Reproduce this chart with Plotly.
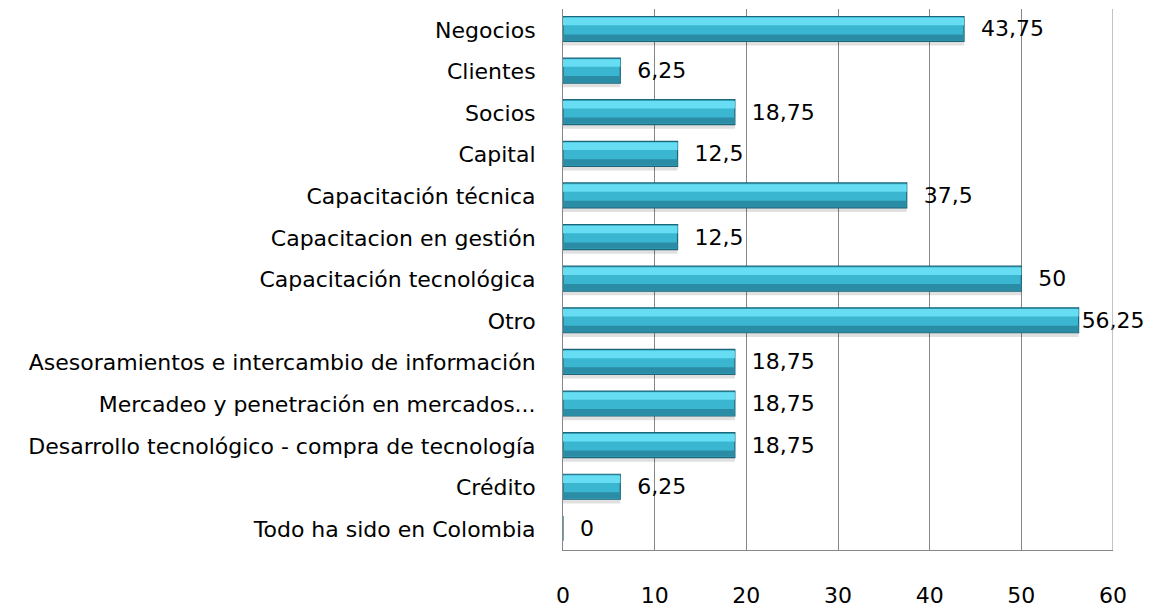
import plotly.graph_objects as go

categories = [
    "Negocios",
    "Clientes",
    "Socios",
    "Capital",
    "Capacitación técnica",
    "Capacitacion en gestión",
    "Capacitación tecnológica",
    "Otro",
    "Asesoramientos e intercambio de información",
    "Mercadeo y penetración en mercados...",
    "Desarrollo tecnológico - compra de tecnología",
    "Crédito",
    "Todo ha sido en Colombia",
]
values = [43.75, 6.25, 18.75, 12.5, 37.5, 12.5, 50, 56.25, 18.75, 18.75, 18.75, 6.25, 0]
value_labels = ["43,75", "6,25", "18,75", "12,5", "37,5", "12,5", "50", "56,25",
                "18,75", "18,75", "18,75", "6,25", "0"]
x_ticks = [0, 10, 20, 30, 40, 50, 60]

FONT = "DejaVu Sans"
FS = 22
vmax = max(values)
bar_text = [("" if v == vmax else "  ") + t for v, t in zip(values, value_labels)]

fig = go.Figure()

# soft shadow
fig.add_trace(go.Bar(
    y=categories, x=values, orientation="h",
    width=0.64, offset=-0.26,
    marker=dict(color="rgba(0,0,0,0.12)", line=dict(width=0)),
    hoverinfo="skip", showlegend=False,
))
# main bar body
fig.add_trace(go.Bar(
    y=categories, x=values, orientation="h",
    width=0.6, offset=-0.32,
    marker=dict(color="#3AB6D0", line=dict(color="#1D6577", width=1.2)),
    text=bar_text, textposition="outside",
    textfont=dict(family=FONT, size=FS, color="#000000"),
    cliponaxis=False, showlegend=False,
))
# light top highlight
fig.add_trace(go.Bar(
    y=categories, x=values, orientation="h",
    width=0.18, offset=-0.29,
    marker=dict(color="#66DDF3", line=dict(width=0)),
    hoverinfo="skip", showlegend=False,
))
# darker lower part
fig.add_trace(go.Bar(
    y=categories, x=values, orientation="h",
    width=0.15, offset=0.11,
    marker=dict(color="#2B8CA5", line=dict(width=0)),
    hoverinfo="skip", showlegend=False,
))

fig.update_layout(
    width=1150, height=601,
    margin=dict(l=555, r=45, t=1, b=57),
    paper_bgcolor="white", plot_bgcolor="white",
    barmode="overlay",
    bargap=0.4,
    font=dict(family=FONT, size=FS, color="#000000"),
    xaxis=dict(
        range=[0, 60], tickvals=x_ticks,
        showgrid=True, gridcolor="#868686", gridwidth=1,
        showline=True, linecolor="#868686", linewidth=1, mirror=False,
        zeroline=False, ticks="",
        tickfont=dict(family=FONT, size=FS),
        ticklabelstandoff=26,
    ),
    yaxis=dict(
        autorange="reversed", type="category",
        showgrid=False, showline=True, linecolor="#868686", linewidth=1,
        ticks="", tickfont=dict(family=FONT, size=FS),
        ticklabelstandoff=22,
    ),
    shapes=[dict(type="line", xref="x", yref="paper", x0=60, x1=60, y0=0, y1=1,
                 line=dict(color="#868686", width=1))],
)

fig.write_html("out.html")
